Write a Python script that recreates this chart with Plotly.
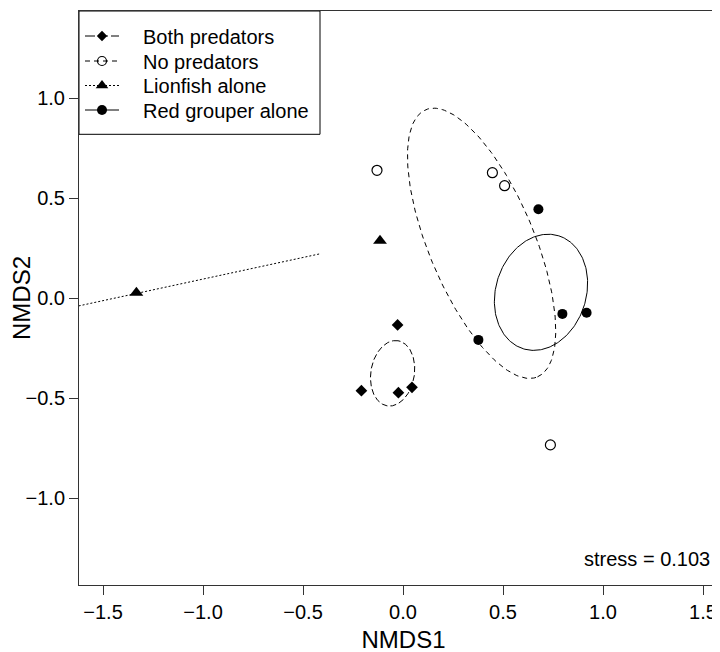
import numpy as np
import plotly.graph_objects as go

# ---- data ----
groups = ["Both predators", "No predators", "Lionfish alone", "Red grouper alone"]

both_x = [-0.027, -0.208, -0.023, 0.045]
both_y = [-0.133, -0.462, -0.472, -0.445]

none_x = [-0.130, 0.447, 0.508, 0.737]
none_y = [0.640, 0.628, 0.563, -0.733]

lion_x = [-1.333, -0.115]
lion_y = [0.028, 0.288]

red_x = [0.677, 0.377, 0.797, 0.918]
red_y = [0.445, -0.208, -0.078, -0.072]

# ellipse parameters: centre x, centre y, semi-major, semi-minor, angle (deg)
both_ell = [-0.052, -0.375, 0.165, 0.109, 80.6]
none_ell = [0.393, 0.275, 0.724, 0.264, -67.3]
red_ell = [0.690, 0.030, 0.296, 0.226, 72.5]
# lionfish (two points) gives a degenerate ellipse: a segment
lion_ell_x = [-1.70, -0.417]
lion_ell_y = [-0.055, 0.222]

stress = 0.103
x_ticks = [-1.5, -1.0, -0.5, 0.0, 0.5, 1.0, 1.5]
y_ticks = [-1.0, -0.5, 0.0, 0.5, 1.0]

FONT = "Liberation Sans, Arial, sans-serif"
INK = "#000000"
AX = "#333333"

# layout geometry (figure px)
W, H = 720, 652
ML, MR, MT, MB = 71, 0, 3, 75
PW, PH = W - ML - MR, H - MT - MB
SCALE = 200.0  # px per unit on both axes
X0 = -1.62
Y1 = 1.4365
x_range = [X0, X0 + PW / SCALE]
y_range = [Y1 - PH / SCALE, Y1]


def ellipse(p, n=240):
    cx, cy, a, b, ang = p
    th = np.deg2rad(ang)
    t = np.linspace(0, 2 * np.pi, n)
    x = cx + a * np.cos(th) * np.cos(t) - b * np.sin(th) * np.sin(t)
    y = cy + a * np.sin(th) * np.cos(t) + b * np.cos(th) * np.sin(t)
    return x, y


fig = go.Figure()

dash_both = "6px,3px"
dash_none = "5px,4px"
dash_lion = "2px,2px"

ex, ey = ellipse(both_ell)
fig.add_trace(go.Scatter(x=ex, y=ey, mode="lines", line=dict(color=INK, width=1, dash=dash_both),
                         showlegend=False, hoverinfo="skip"))
ex, ey = ellipse(none_ell)
fig.add_trace(go.Scatter(x=ex, y=ey, mode="lines", line=dict(color=INK, width=1, dash=dash_none),
                         showlegend=False, hoverinfo="skip"))
fig.add_trace(go.Scatter(x=lion_ell_x, y=lion_ell_y, mode="lines", line=dict(color=INK, width=1, dash=dash_lion),
                         showlegend=False, hoverinfo="skip"))
ex, ey = ellipse(red_ell)
fig.add_trace(go.Scatter(x=ex, y=ey, mode="lines", line=dict(color=INK, width=1),
                         showlegend=False, hoverinfo="skip"))

markers = [
    dict(symbol="diamond", size=9, color=INK),
    dict(symbol="circle-open", size=10, color=INK, line=dict(width=1.2)),
    dict(symbol="triangle-up", size=12, color=INK),
    dict(symbol="circle", size=10, color=INK),
]
dashes = ["10px,3px", "5px,4px", dash_lion, "solid"]

for gx, gy, name, mk in zip([both_x, none_x, lion_x, red_x], [both_y, none_y, lion_y, red_y], groups, markers):
    fig.add_trace(go.Scatter(x=gx, y=gy, mode="markers", name=name, showlegend=False, marker=mk))

# ---- hand-drawn legend, in plot-area pixel coordinates (x2/y2) ----
leg_box = [0, 0, 241, 123.3]
leg_rows = [25.0, 50.0, 74.5, 99.0]
leg_line = [6, 40]
leg_mark_x = 23
leg_text_x = 62

fig.add_shape(type="rect", xref="x2", yref="y2", x0=leg_box[0], y0=leg_box[1], x1=leg_box[2], y1=leg_box[3],
              line=dict(color=INK, width=1), fillcolor="rgba(0,0,0,0)", layer="above")
for ry, name, mk, dsh in zip(leg_rows, groups, markers, dashes):
    fig.add_shape(type="line", xref="x2", yref="y2", x0=leg_line[0], x1=leg_line[1], y0=ry, y1=ry,
                  line=dict(color=INK, width=1, dash=dsh), layer="above")
    fig.add_annotation(text=name, xref="x2", yref="y2", x=leg_text_x, y=ry + 0.5,
                       xanchor="left", yanchor="middle", showarrow=False,
                       font=dict(family=FONT, size=20, color=INK))
for ry, mk, sz in zip(leg_rows, markers, [8, 9, 11, 10]):
    m = dict(mk)
    m["size"] = sz
    fig.add_trace(go.Scatter(x=[leg_mark_x], y=[ry], xaxis="x2", yaxis="y2", mode="markers",
                             showlegend=False, hoverinfo="skip", marker=m))

fig.add_annotation(text=f"stress = {stress}", xref="x2", yref="y2",
                   x=633, y=548, xanchor="right", yanchor="middle", showarrow=False,
                   font=dict(family=FONT, size=20, color=INK))

fig.update_layout(
    width=W, height=H,
    margin=dict(l=ML, r=MR, t=MT, b=MB, autoexpand=False),
    paper_bgcolor="white", plot_bgcolor="white",
    font=dict(family=FONT, size=20, color=INK),
    showlegend=False,
    xaxis=dict(range=x_range, tickvals=x_ticks, tickformat=".1f",
               showline=True, linecolor=AX, linewidth=1, mirror=True,
               ticks="outside", ticklen=9, tickcolor=AX, tickwidth=1,
               showgrid=False, zeroline=False,
               title=dict(text="NMDS1", font=dict(family=FONT, size=24, color=INK), standoff=9),
               tickfont=dict(family=FONT, size=20, color=INK)),
    yaxis=dict(range=y_range, tickvals=y_ticks, tickformat=".1f",
               showline=True, linecolor=AX, linewidth=1, mirror=False,
               ticks="outside", ticklen=9, tickcolor=AX, tickwidth=1,
               showgrid=False, zeroline=False,
               title=dict(text="NMDS2", font=dict(family=FONT, size=24, color=INK), standoff=0),
               tickfont=dict(family=FONT, size=20, color=INK)),
    xaxis2=dict(range=[0, PW], overlaying="x", anchor="y2", visible=False, fixedrange=True),
    yaxis2=dict(range=[PH, 0], overlaying="y", anchor="x2", visible=False, fixedrange=True),
)

fig.write_html("out.html")
